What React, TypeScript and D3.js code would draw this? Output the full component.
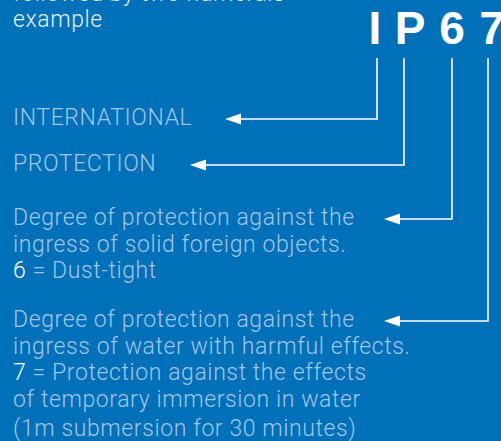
import React from "react";
import * as d3 from "d3";

// code characters and what each one points to
const codeChars = ["I", "P", "6", "7"];
const introLines = ["followed by two numerals", "example"];
const labelLines = [
  [{ lead: "", text: "INTERNATIONAL" }],
  [{ lead: "", text: "PROTECTION" }],
  [
    { lead: "", text: "Degree of protection against the" },
    { lead: "", text: "ingress of solid foreign objects." },
    { lead: "6", text: " = Dust-tight" },
  ],
  [
    { lead: "", text: "Degree of protection against the" },
    { lead: "", text: "ingress of water with harmful effects." },
    { lead: "7", text: " = Protection against the effects" },
    { lead: "", text: "of temporary immersion in water" },
    { lead: "", text: "(1m submersion for 30 minutes)" },
  ],
];

const width = 501;
const height = 441;
const bg = "#0070b9";
const pale = "#a3c6e8";
const font = "Roboto, 'Liberation Sans', sans-serif";
const fontSize = 23;
const spacing = 0.6;

// layout
const charX = [375, 410, 452, 492];
const stemX = [377, 404, 452, 488];
const arrowY = [119, 165, 219, 321];
const arrowTipX = [225, 190, 384, 384];
const labelY = [125, 171, 225, 327];
const introY = [1, 27];
const stemTop = 58;
const lineStep = 26.7;

export default function App() {
  const rowY = d3.scaleLinear().domain([0, 1]).range([0, lineStep]);
  const arrowHead = (x: number, y: number) => {
    const p = d3.path();
    p.moveTo(x, y);
    p.lineTo(x + 16, y - 5.5);
    p.lineTo(x + 16, y + 5.5);
    p.closePath();
    return p.toString();
  };
  const connector = (i: number) => {
    const p = d3.path();
    p.moveTo(stemX[i], stemTop);
    p.lineTo(stemX[i], arrowY[i]);
    p.lineTo(arrowTipX[i] + 14, arrowY[i]);
    return p.toString();
  };

  return (
    <svg
      width={width}
      height={height}
      style={{ position: "absolute", left: 0, top: 0, display: "block" }}
    >
      <rect width={width} height={height} fill={bg} />
      {introLines.map((t, i) => (
        <text
          key={t}
          x={13}
          y={introY[i]}
          fill="#e8f0f8"
          fontFamily={font}
          fontWeight={300}
          fontSize={fontSize}
          letterSpacing={spacing}
        >
          {t}
        </text>
      ))}
      {codeChars.map((c, i) => (
        <text
          key={c}
          x={charX[i]}
          y={44}
          textAnchor="middle"
          fill="#fff"
          fontFamily="'Liberation Sans', Arial, sans-serif"
          fontWeight={700}
          fontSize={46}
        >
          {c}
        </text>
      ))}
      {codeChars.map((c, i) => (
        <g key={"a" + c}>
          <path d={connector(i)} fill="none" stroke="#fff" strokeWidth={1.6} />
          <path d={arrowHead(arrowTipX[i], arrowY[i])} fill="#fff" />
        </g>
      ))}
      {labelLines.map((lines, i) => (
        <text
          key={"l" + i}
          fontFamily={font}
          fontWeight={300}
          fontSize={fontSize}
          letterSpacing={spacing}
          fill={pale}
        >
          {lines.map((ln, j) => (
            <tspan key={j} x={13} y={labelY[i] + rowY(j) + (j === 4 ? 2 : 0)}>
              {ln.lead && <tspan fill="#fff">{ln.lead}</tspan>}
              {ln.text}
            </tspan>
          ))}
        </text>
      ))}
    </svg>
  );
}
